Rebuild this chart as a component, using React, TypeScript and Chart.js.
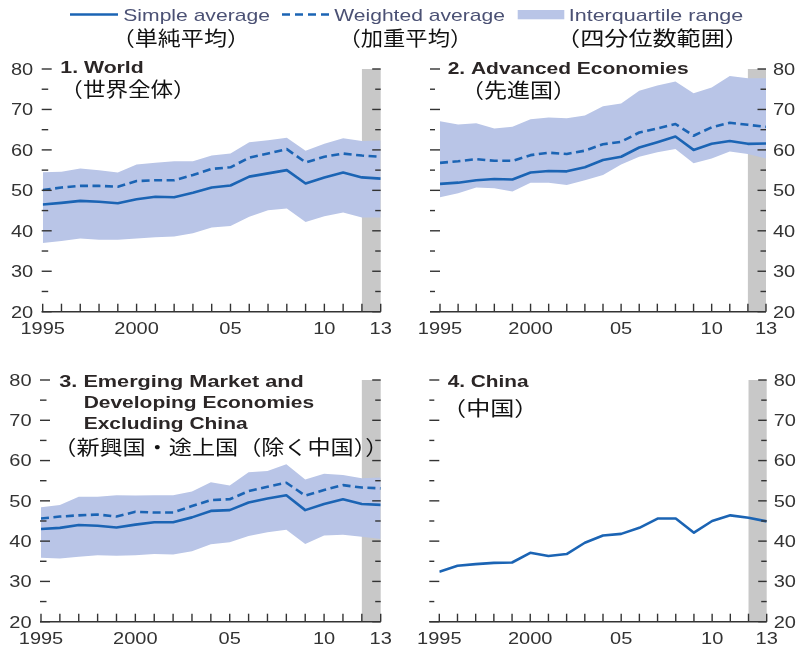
import React, { useEffect, useRef } from 'react';
import { Chart, registerables } from 'chart.js';

Chart.register(...registerables);

// ---- data -------------------------------------------------------------
const years = [1995, 1996, 1997, 1998, 1999, 2000, 2001, 2002, 2003, 2004, 2005, 2006, 2007, 2008, 2009, 2010, 2011, 2012, 2013];

const worldSimple = [46.5, 46.9, 47.4, 47.2, 46.8, 47.8, 48.4, 48.3, 49.4, 50.7, 51.2, 53.4, 54.2, 55.0, 51.7, 53.2, 54.4, 53.2, 52.9];
const worldWeighted = [50.1, 50.7, 51.1, 51.1, 50.9, 52.3, 52.5, 52.5, 53.8, 55.3, 55.7, 58.1, 59.1, 60.2, 56.9, 58.3, 59.1, 58.6, 58.3];
const worldQ3 = [54.5, 54.6, 55.4, 55.0, 54.4, 56.4, 56.8, 57.2, 57.2, 58.6, 59.1, 61.9, 62.4, 63.0, 59.8, 61.5, 62.9, 62.2, 62.3];
const worldQ1 = [37.0, 37.5, 38.1, 37.8, 37.8, 38.1, 38.4, 38.6, 39.4, 40.8, 41.2, 43.5, 45.1, 45.5, 42.2, 43.6, 44.5, 43.3, 43.3];

const advSimple = [51.6, 51.9, 52.5, 52.8, 52.7, 54.4, 54.8, 54.7, 55.7, 57.5, 58.3, 60.6, 61.9, 63.3, 60.0, 61.5, 62.2, 61.5, 61.6];
const advWeighted = [56.8, 57.2, 57.7, 57.3, 57.3, 58.7, 59.3, 59.0, 59.8, 61.4, 62.0, 64.3, 65.3, 66.4, 63.5, 65.6, 66.7, 66.2, 65.7];
const advQ3 = [67.1, 66.3, 66.6, 65.3, 65.7, 67.6, 68.0, 67.8, 68.5, 70.8, 71.5, 74.6, 75.9, 76.9, 74.0, 75.4, 78.3, 77.7, 77.7];
const advQ1 = [48.3, 49.3, 50.7, 50.5, 49.7, 51.9, 51.9, 51.3, 52.5, 53.8, 56.4, 58.3, 59.4, 60.2, 56.7, 57.9, 59.6, 59.0, 57.9];

const emdeSimple = [43.0, 43.3, 44.0, 43.8, 43.4, 44.1, 44.7, 44.7, 45.9, 47.5, 47.7, 49.6, 50.6, 51.4, 47.7, 49.2, 50.4, 49.2, 49.0];
const emdeWeighted = [45.6, 46.1, 46.4, 46.6, 46.1, 47.3, 47.1, 47.1, 48.7, 50.2, 50.4, 52.4, 53.5, 54.5, 51.3, 52.7, 53.9, 53.3, 53.1];
const emdeQ3 = [48.4, 49.0, 51.0, 51.0, 51.4, 51.3, 51.4, 51.4, 52.3, 54.6, 53.8, 57.1, 57.4, 59.1, 55.3, 56.7, 56.4, 55.6, 55.8];
const emdeQ1 = [35.9, 35.7, 36.1, 36.5, 36.4, 36.5, 36.8, 36.7, 37.5, 39.2, 39.7, 41.3, 42.2, 42.8, 39.3, 41.4, 41.6, 41.1, 40.5];

const chinaValues = [32.4, 33.9, 34.3, 34.6, 34.7, 37.1, 36.3, 36.8, 39.6, 41.4, 41.8, 43.3, 45.6, 45.6, 42.1, 45.0, 46.4, 45.8, 44.9];

// axis ticks and labels
const xLabelYears = [1995, 2000, 2005, 2010, 2013];
const xLabelTexts = ['1995', '2000', '05', '10', '13'];
const yLabelValues = [20, 30, 40, 50, 60, 70, 80];
const yMinorStep = 5;

// shaded projection years
const shadeYears = [2012, 2013];

// legend
const legendLabels = ['Simple average', 'Weighted average', 'Interquartile range'];
const legendLabelsJa = ['（単純平均）', '（加重平均）', '（四分位数範囲）'];

// ---- styles -----------------------------------------------------------
const W = 796;
const H = 648;
const BLUE = '#1b64b4';
const BAND = '#b9c5e7';
const SHADE = '#c8c8c8';
const INK = '#333333';
const TITLE_INK = '#2b2626';
const LEGEND_INK = '#4b5174';
const CJK_INK = '#111111';
const LATIN = '"Liberation Sans", Arial, sans-serif';
const CJK = '"Noto Sans CJK JP", "Noto Sans CJK SC", sans-serif';
const LATIN_STRETCH = 1.25;

type TitleLine = { text: string; l: number; r: number; y: number; cjk?: boolean };
type PanelSpec = {
  area: { l: number; r: number; t: number; b: number };
  labelSide: 'left' | 'right';
  simple: number[];
  weighted?: number[];
  q1?: number[];
  q3?: number[];
  titles: TitleLine[];
  legend?: boolean;
};

const panels: PanelSpec[] = [
  {
    area: { l: 42.7, r: 380.7, t: 69, b: 311.7 },
    labelSide: 'left',
    simple: worldSimple,
    weighted: worldWeighted,
    q1: worldQ1,
    q3: worldQ3,
    legend: true,
    titles: [
      { text: '1. World', l: 61.7, r: 142.7, y: 73.3 },
      { text: '（世界全体）', l: 75, r: 181, y: 89, cjk: true },
    ],
  },
  {
    area: { l: 440, r: 766, t: 69, b: 311.7 },
    labelSide: 'right',
    simple: advSimple,
    weighted: advWeighted,
    q1: advQ1,
    q3: advQ3,
    titles: [
      { text: '2. Advanced Economies', l: 447.7, r: 688.7, y: 73.8 },
      { text: '（先進国）', l: 476, r: 561, y: 90.5, cjk: true },
    ],
  },
  {
    area: { l: 41, r: 380.7, t: 380, b: 621.7 },
    labelSide: 'left',
    simple: emdeSimple,
    weighted: emdeWeighted,
    q1: emdeQ1,
    q3: emdeQ3,
    titles: [
      { text: '3. Emerging Market and', l: 59.3, r: 302.7, y: 387.3 },
      { text: 'Developing Economies', l: 85, r: 314.3, y: 408.3 },
      { text: 'Excluding China', l: 85, r: 247.7, y: 428.8 },
      { text: '（新興国・途上国（除く中国））', l: 68.3, r: 373.3, y: 447.5, cjk: true },
    ],
  },
  {
    area: { l: 439.3, r: 766.7, t: 380, b: 621.7 },
    labelSide: 'right',
    simple: chinaValues,
    titles: [
      { text: '4. China', l: 447.7, r: 528.7, y: 386.7 },
      { text: '（中国）', l: 457.7, r: 522.7, y: 408, cjk: true },
    ],
  },
];

// ---- text helpers -----------------------------------------------------
// Draws text so that its ink spans exactly [inkL, inkR].
function drawFit(ctx: CanvasRenderingContext2D, text: string, inkL: number, inkR: number, y: number) {
  ctx.textAlign = 'left';
  const m = ctx.measureText(text);
  const inkW = m.actualBoundingBoxLeft + m.actualBoundingBoxRight;
  const sx = inkW > 0 ? (inkR - inkL) / inkW : 1;
  ctx.save();
  ctx.translate(inkL, y);
  ctx.scale(sx, 1);
  ctx.fillText(text, m.actualBoundingBoxLeft, 0);
  ctx.restore();
}

// Draws horizontally widened Latin text aligned at x.
function drawWide(ctx: CanvasRenderingContext2D, text: string, x: number, y: number, align: 'left' | 'center' | 'right') {
  ctx.textAlign = 'left';
  const w = ctx.measureText(text).width * LATIN_STRETCH;
  const x0 = align === 'left' ? x : align === 'center' ? x - w / 2 : x - w;
  ctx.save();
  ctx.translate(x0, y);
  ctx.scale(LATIN_STRETCH, 1);
  ctx.fillText(text, 0, 0);
  ctx.restore();
}

function line(ctx: CanvasRenderingContext2D, x0: number, y0: number, x1: number, y1: number) {
  ctx.beginPath();
  ctx.moveTo(x0, y0);
  ctx.lineTo(x1, y1);
  ctx.stroke();
}

function drawLegend(ctx: CanvasRenderingContext2D) {
  ctx.save();
  // swatches
  ctx.strokeStyle = BLUE;
  ctx.lineWidth = 2.6;
  line(ctx, 70, 14.5, 118, 14.5);
  ctx.setLineDash([8, 5]);
  line(ctx, 282, 14.5, 330, 14.5);
  ctx.setLineDash([]);
  ctx.fillStyle = BAND;
  ctx.fillRect(517.7, 10, 46.6, 9.3);

  ctx.textBaseline = 'alphabetic';
  ctx.font = `17px ${LATIN}`;
  ctx.fillStyle = LEGEND_INK;
  drawFit(ctx, legendLabels[0], 123.3, 269.3, 20.8);
  drawFit(ctx, legendLabels[1], 334.3, 504.3, 20.8);
  drawFit(ctx, legendLabels[2], 570, 742.7, 20.8);

  ctx.textBaseline = 'middle';
  ctx.font = `20px ${CJK}`;
  ctx.fillStyle = CJK_INK;
  drawFit(ctx, legendLabelsJa[0], 126.7, 235, 38.5);
  drawFit(ctx, legendLabelsJa[1], 353, 457.7, 38.5);
  drawFit(ctx, legendLabelsJa[2], 571.7, 733.3, 38.5);
  ctx.restore();
}

function framePlugin(spec: PanelSpec) {
  return {
    id: 'panelFrame',
    beforeDatasetsDraw(chart: any) {
      const { ctx, chartArea, scales } = chart;
      const x0 = scales.x.getPixelForValue(shadeYears[0]);
      const x1 = scales.x.getPixelForValue(shadeYears[1]);
      ctx.save();
      ctx.fillStyle = SHADE;
      ctx.fillRect(x0, chartArea.top, x1 - x0, chartArea.bottom - chartArea.top);
      ctx.restore();
    },
    afterDatasetsDraw(chart: any) {
      const { ctx, chartArea, scales } = chart;
      const xs = scales.x;
      const ys = scales.y;
      const L = chartArea.left;
      const R = chartArea.right;
      const B = chartArea.bottom;
      const outerLeft = spec.labelSide === 'right';

      ctx.save();
      ctx.strokeStyle = INK;
      ctx.lineWidth = 1.4;

      // y tick marks on both sides
      for (let v = ys.min; v <= ys.max; v += yMinorStep) {
        const py = ys.getPixelForValue(v);
        const major = v % 10 === 0;
        if (outerLeft) {
          line(ctx, L - 10, py, major ? L : L - 5, py);
        } else {
          line(ctx, L - 1, py, major ? L + 9 : L + 5.5, py);
        }
        line(ctx, major ? R - 8.5 : R - 5.5, py, R, py);
      }

      // x tick marks at every year
      for (const yr of years) {
        const px = xs.getPixelForValue(yr);
        line(ctx, px, B, px, B - 8);
      }

      // bottom axis line
      ctx.lineWidth = 1.6;
      line(ctx, outerLeft ? L - 10 : L - 1, B, R, B);

      // tick labels
      ctx.fillStyle = INK;
      ctx.font = `16px ${LATIN}`;
      ctx.textBaseline = 'alphabetic';
      yLabelValues.forEach((v) => {
        const py = ys.getPixelForValue(v) + 5.8;
        if (spec.labelSide === 'left') drawWide(ctx, String(v), L - 9.5, py, 'right');
        else drawWide(ctx, String(v), R + 7, py, 'left');
      });
      xLabelYears.forEach((yr, i) => {
        drawWide(ctx, xLabelTexts[i], xs.getPixelForValue(yr), B + 22, 'center');
      });

      // panel titles
      spec.titles.forEach((t) => {
        if (t.cjk) {
          ctx.font = `20px ${CJK}`;
          ctx.fillStyle = CJK_INK;
          ctx.textBaseline = 'middle';
        } else {
          ctx.font = `bold 16px ${LATIN}`;
          ctx.fillStyle = TITLE_INK;
          ctx.textBaseline = 'alphabetic';
        }
        drawFit(ctx, t.text, t.l, t.r, t.y);
      });
      ctx.restore();

      if (spec.legend) drawLegend(ctx);
    },
  };
}

const pts = (vals: number[]) => years.map((yr, i) => ({ x: yr, y: vals[i] }));

// Lines come first so they are painted above the interquartile band
// (Chart.js paints datasets from last to first).
function buildDatasets(spec: PanelSpec) {
  const ds: any[] = [];
  ds.push({
    label: legendLabels[0],
    data: pts(spec.simple),
    borderColor: BLUE,
    borderWidth: 2.6,
    fill: false,
    pointRadius: 0,
  });
  if (spec.weighted) {
    ds.push({
      label: legendLabels[1],
      data: pts(spec.weighted),
      borderColor: BLUE,
      borderWidth: 2.6,
      borderDash: [8, 4.5],
      fill: false,
      pointRadius: 0,
    });
  }
  if (spec.q1 && spec.q3) {
    ds.push({
      label: legendLabels[2],
      data: pts(spec.q3),
      borderColor: 'rgba(0,0,0,0)',
      borderWidth: 0,
      backgroundColor: BAND,
      fill: '+1',
      pointRadius: 0,
    });
    ds.push({
      label: 'q1',
      data: pts(spec.q1),
      borderColor: 'rgba(0,0,0,0)',
      borderWidth: 0,
      fill: false,
      pointRadius: 0,
    });
  }
  return ds;
}

function Panel({ spec }: { spec: PanelSpec }) {
  const ref = useRef<HTMLCanvasElement>(null);
  useEffect(() => {
    if (!ref.current) return;
    const { l, r, t, b } = spec.area;
    const chart = new Chart(ref.current, {
      type: 'line',
      data: { datasets: buildDatasets(spec) },
      options: {
        responsive: false,
        animation: false,
        devicePixelRatio: 1,
        events: [],
        layout: { padding: { left: l, right: W - r, top: t, bottom: H - b } },
        elements: { line: { tension: 0, borderCapStyle: 'butt', borderJoinStyle: 'round' } },
        scales: {
          x: { type: 'linear', min: years[0], max: years[years.length - 1], display: false },
          y: { type: 'linear', min: 20, max: 80, display: false },
        },
        plugins: { legend: { display: false }, tooltip: { enabled: false } },
      },
      plugins: [framePlugin(spec)],
    } as any);
    return () => chart.destroy();
  }, [spec]);
  return (
    <canvas
      ref={ref}
      width={W}
      height={H}
      style={{ position: 'absolute', left: 0, top: 0, width: W, height: H }}
    />
  );
}

export default function App() {
  return (
    <div style={{ position: 'absolute', left: 0, top: 0, width: W, height: H, background: '#ffffff', overflow: 'hidden' }}>
      {panels.map((p, i) => (
        <Panel key={i} spec={p} />
      ))}
    </div>
  );
}
